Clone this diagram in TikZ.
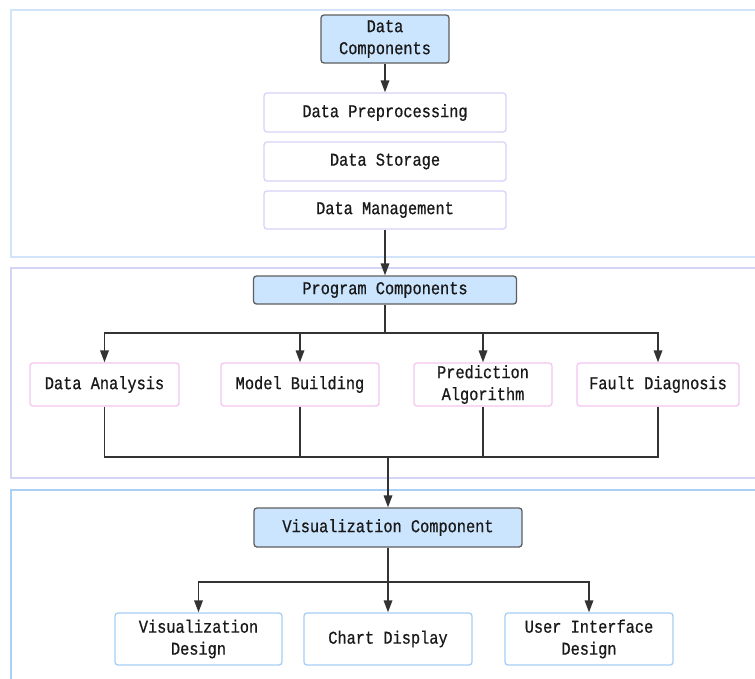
\documentclass[tikz,border=0pt]{standalone}
\usepackage{fontspec}
\newfontfamily\diagfont[FakeStretch=0.85,FakeBold=0.7]{Liberation Mono}
\usetikzlibrary{arrows.meta}
\definecolor{hdrfill}{HTML}{CCE5FF}
\definecolor{hdrdraw}{HTML}{5E5E5E}
\definecolor{lav}{HTML}{D6D2FA}
\definecolor{pinkb}{HTML}{F4C6F0}
\definecolor{blueb}{HTML}{A6CEF6}
\definecolor{cont1}{HTML}{D2E4FA}
\definecolor{cont2}{HTML}{D4D4F6}
\definecolor{cont3}{HTML}{AAD0F6}
\definecolor{linec}{HTML}{333333}
\tikzset{
  base/.style={rounded corners=3pt, align=center, inner sep=0pt,
    font=\diagfont\fontsize{18}{22}\selectfont, text=black!90},
  hdr/.style={base, draw=hdrdraw, fill=hdrfill, line width=1.3pt},
  dbox/.style={base, draw=lav, fill=white, line width=1.3pt},
  pbox/.style={base, draw=pinkb, fill=white, line width=1.3pt},
  vbox/.style={base, draw=blueb, fill=white, line width=1.3pt},
  cont/.style={line width=2pt},
  conn/.style={draw=linec, line width=1.7pt},
  arr/.style={conn, -{Triangle[length=12pt,width=8.5pt]}}
}
\begin{document}
\begin{tikzpicture}[x=1pt,y=-1pt]
\useasboundingbox (0,0) rectangle (755,678);
\fill[white] (0,0) rectangle (755,678);
% containers
\draw[cont, draw=cont1] (11,10) rectangle (770,257);
\draw[cont, draw=cont2] (11,268) rectangle (770,478);
\draw[cont, draw=cont3] (11,490) rectangle (770,700);
% data section
\node[hdr, minimum width=128pt, minimum height=48pt] (dc) at (385,39) {Data\\Components};
\node[dbox, minimum width=242pt, minimum height=39pt] (dp) at (385,112.5) {Data Preprocessing};
\node[dbox, minimum width=242pt, minimum height=39pt] (ds) at (385,161.5) {Data Storage};
\node[dbox, minimum width=242pt, minimum height=38pt] (dm) at (385,210) {Data Management};
% program section
\node[hdr, minimum width=263pt, minimum height=28pt] (pc) at (385,290) {Program Components};
\node[pbox, minimum width=149pt, minimum height=43pt] (da) at (104.5,384.5) {Data Analysis};
\node[pbox, minimum width=158pt, minimum height=43pt] (mb) at (300,384.5) {Model Building};
\node[pbox, minimum width=138pt, minimum height=43pt] (pa) at (483,384.5) {Prediction\\Algorithm};
\node[pbox, minimum width=162pt, minimum height=43pt] (fd) at (658,384.5) {Fault Diagnosis};
% visualization section
\node[hdr, minimum width=268pt, minimum height=39pt] (vc) at (388,527.5) {Visualization Component};
\node[vbox, minimum width=167pt, minimum height=52pt] (vd) at (198.5,639) {Visualization\\Design};
\node[vbox, minimum width=168pt, minimum height=52pt] (cd) at (388,639) {Chart Display};
\node[vbox, minimum width=168pt, minimum height=52pt] (ui) at (589,639) {User Interface\\Design};
% coordinates
\coordinate (b1) at (385,333);
\coordinate (b2) at (388,457);
\coordinate (b3) at (388,582);
% connectors
\draw[arr] (dc) -- (dp);
\draw[arr] (dm) -- (pc);
\draw[conn] (pc.south) -- (b1);
\draw[arr] (b1) -| (da.north);
\draw[arr] (b1) -| (mb.north);
\draw[arr] (b1) -| (pa.north);
\draw[arr] (b1) -| (fd.north);
\draw[conn] (da.south) |- (b2);
\draw[conn] (mb.south) |- (b2);
\draw[conn] (pa.south) |- (b2);
\draw[conn] (fd.south) |- (b2);
\draw[arr] (b2) -- (vc.north);
\draw[conn] (vc.south) -- (b3);
\draw[arr] (b3) -| (vd.north);
\draw[arr] (b3) -- (cd.north);
\draw[arr] (b3) -| (ui.north);
\end{tikzpicture}
\end{document}
